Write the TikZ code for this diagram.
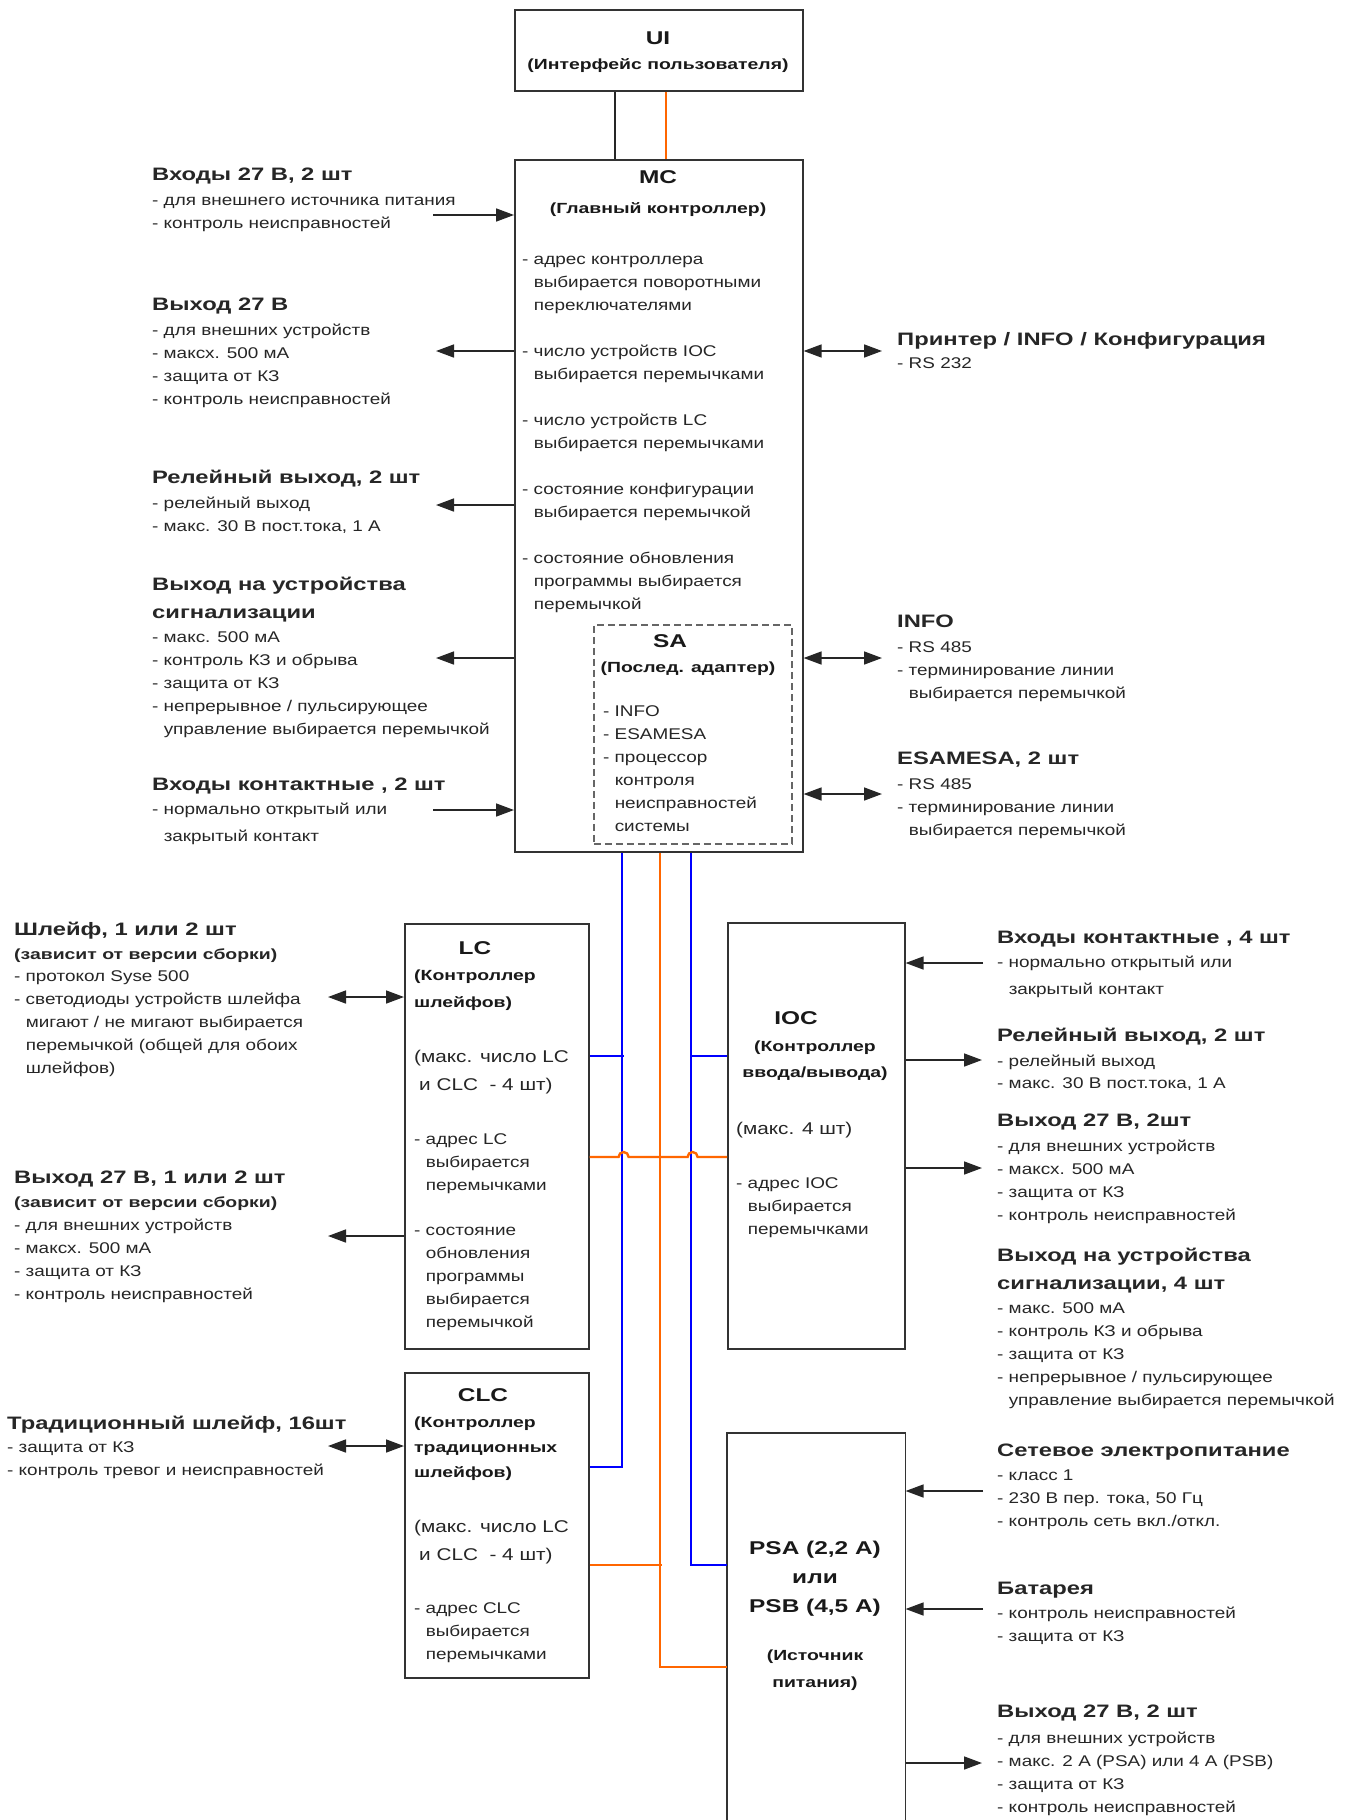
\documentclass[tikz,border=0pt]{standalone}
\usepackage{fontspec}
\setmainfont[FakeStretch=1.22]{Liberation Sans}
\newfontfamily\hdfam[FakeStretch=1.32]{Liberation Sans}
\usetikzlibrary{arrows.meta}

\definecolor{busblue}{RGB}{0,0,255}
\definecolor{busorange}{RGB}{255,102,0}

\newcommand{\bodyfont}{\fontsize{15.5}{23}\selectfont}
\newcommand{\headfont}{\hdfam\bfseries\fontsize{18}{23}\selectfont}
\newcommand{\subfont}{\hdfam\bfseries\fontsize{14.7}{26}\selectfont}
\newcommand{\titlefont}{\hdfam\bfseries\fontsize{18.5}{29}\selectfont}
\newcommand{\maxfont}{\fontsize{17}{28}\selectfont}
\newcommand{\ind}{\phantom{- }}
\newcommand{\leftlines}[1]{\begin{tabular}[t]{@{}l@{}}#1\end{tabular}}
\newcommand{\midlines}[1]{\begin{tabular}[t]{@{}c@{}}#1\end{tabular}}

\tikzset{
	box/.style={draw=black!80,line width=1.6,inner sep=0,anchor=north west},
	txt/.style={anchor=base west,inner sep=0,font=\bodyfont,text=black!85},
	ttl/.style={anchor=base,inner sep=0,font=\titlefont,text=black!90},
	sub/.style={anchor=base,inner sep=0,font=\subfont,text=black!90},
	subl/.style={anchor=base west,inner sep=0,font=\subfont,text=black!90},
	maxi/.style={anchor=base west,inner sep=0,font=\maxfont,text=black!85},
	arr/.style={draw=black!85,line width=1.6,-{Triangle[length=18pt,width=13pt]}},
	darr/.style={draw=black!85,line width=1.6,{Triangle[length=18pt,width=13pt]}-{Triangle[length=18pt,width=13pt]}},
	busb/.style={draw=busblue,line width=2.4},
	buso/.style={draw=busorange,line width=2.4}
}

\begin{document}
\begin{tikzpicture}[x=1pt,y=-1pt]
	\path[fill=white,use as bounding box] (0,0) rectangle (1357,1820);

	% blocks
	\node[box,minimum width=288,minimum height=81] (ui) at (514,9) {};
	\node[box,minimum width=288,minimum height=692] (mc) at (514,159) {};
	\node[box,draw=black!60,dash pattern=on 7pt off 4pt,minimum width=198,minimum height=219] (sa) at (593,624) {};
	\node[box,minimum width=184,minimum height=425] (lc) at (404,923) {};
	\node[box,minimum width=177,minimum height=426] (ioc) at (727,922) {};
	\node[box,minimum width=184,minimum height=305] (clc) at (404,1372) {};
	\node[box,draw=none,minimum width=177,minimum height=400] (psa) at (727,1433) {};
	\draw[draw=black!80,line width=1.6] (psa.south west) -- (psa.north west) -- (psa.north east) -- (psa.south east);

	% block texts
	\node[ttl] (uiT) at (658,44.5) {UI};
	\node[sub] (uiS) at (658,69) {(Интерфейс пользователя)};
	\node[ttl] (mcT) at (658,183) {MC};
	\node[sub] (mcS) at (658,213) {(Главный контроллер)};
	\node[txt] (mcL) at (522,264) {\leftlines{- адрес контроллера\\\ind выбирается поворотными\\\ind переключателями\\[23pt]- число устройств IOC\\\ind выбирается перемычками\\[23pt]- число устройств LC\\\ind выбирается перемычками\\[23pt]- состояние конфигурации\\\ind выбирается перемычкой\\[23pt]- состояние обновления\\\ind программы выбирается\\\ind перемычкой}};
	\node[ttl] (saT) at (670,647) {SA};
	\node[sub] (saS) at (688,672) {(Послед. адаптер)};
	\node[txt] (saL) at (603,716) {\leftlines{- INFO\\- ESAMESA\\- процессор\\\ind контроля\\\ind неисправностей\\\ind системы}};

	\node[ttl] (lcT) at (475,954) {LC};
	\node[subl] (lcS) at (414,980) {\leftlines{(Контроллер\\[1pt]шлейфов)}};
	\node[maxi] (lcM) at (414,1062) {\leftlines{(макс. число LC\\\hspace*{5pt}и CLC\ \ - 4 шт)}};
	\node[txt] (lcL) at (414,1144) {\leftlines{- адрес LC\\\ind выбирается\\\ind перемычками\\[22pt]- состояние\\\ind обновления\\\ind программы\\\ind выбирается\\\ind перемычкой}};

	\node[ttl] (iocT) at (796,1024) {IOC};
	\node[sub] (iocS) at (815,1051) {\midlines{(Контроллер\\ввода/вывода)}};
	\node[maxi] (iocM) at (736,1134) {(макс. 4 шт)};
	\node[txt] (iocL) at (736,1188) {\leftlines{- адрес IOC\\\ind выбирается\\\ind перемычками}};

	\node[ttl] (clcT) at (483,1401) {CLC};
	\node[subl] (clcS) at (414,1427) {\leftlines{(Контроллер\\[-1pt]традиционных\\[-1pt]шлейфов)}};
	\node[maxi] (clcM) at (414,1532) {\leftlines{(макс. число LC\\\hspace*{5pt}и CLC\ \ - 4 шт)}};
	\node[txt] (clcL) at (414,1613) {\leftlines{- адрес CLC\\\ind выбирается\\\ind перемычками}};

	\node[ttl] (psaT) at (815,1554) {\midlines{PSA (2,2 А)\\или\\PSB (4,5 А)}};
	\node[sub] (psaS) at (815,1660) {\midlines{(Источник\\[1pt]питания)}};

	% outer texts
	\node[txt] (vinT) at (152,180) {\leftlines{{\headfont Входы 27 В, 2 шт}\\[2pt]- для внешнего источника питания\\- контроль неисправностей}};
	\node[txt] (voutT) at (152,310) {\leftlines{{\headfont Выход 27 В}\\[2pt]- для внешних устройств\\- максх. 500 мА\\- защита от КЗ\\- контроль неисправностей}};
	\node[txt] (relT) at (152,483) {\leftlines{{\headfont Релейный выход, 2 шт}\\[2pt]- релейный выход\\- макс. 30 В пост.тока, 1 А}};
	\node[txt] (sigT) at (152,590) {\leftlines{{\headfont Выход на устройства}\\[5pt]{\headfont сигнализации}\\[1pt]- макс. 500 мА\\- контроль КЗ и обрыва\\- защита от КЗ\\- непрерывное / пульсирующее\\\ind управление выбирается перемычкой}};
	\node[txt] (kinT) at (152,790) {\leftlines{{\headfont Входы контактные , 2 шт}\\[1pt]- нормально открытый или\\[4pt]\ind закрытый контакт}};
	\node[txt] (prnT) at (897,345) {\leftlines{{\headfont Принтер / INFO / Конфигурация}\\- RS 232}};
	\node[txt] (infoT) at (897,627) {\leftlines{{\headfont INFO}\\[2pt]- RS 485\\- терминирование линии\\\ind выбирается перемычкой}};
	\node[txt] (esaT) at (897,764) {\leftlines{{\headfont ESAMESA, 2 шт}\\[2pt]- RS 485\\- терминирование линии\\\ind выбирается перемычкой}};

	\node[txt] (loopT) at (14,935) {\leftlines{{\headfont Шлейф, 1 или 2 шт}\\[1pt]{\subfont (зависит от версии сборки)}\\[-1pt]- протокол Syse 500\\- светодиоды устройств шлейфа\\\ind мигают / не мигают выбирается\\\ind перемычкой (общей для обоих\\\ind шлейфов)}};
	\node[txt] (lcOutT) at (14,1183) {\leftlines{{\headfont Выход 27 В, 1 или 2 шт}\\[1pt]{\subfont (зависит от версии сборки)}\\- для внешних устройств\\- максх. 500 мА\\- защита от КЗ\\- контроль неисправностей}};
	\node[txt] (tloopT) at (7,1429) {\leftlines{{\headfont Традиционный шлейф, 16шт}\\- защита от КЗ\\- контроль тревог и неисправностей}};

	\node[txt] (iocInT) at (997,943) {\leftlines{{\headfont Входы контактные , 4 шт}\\[1pt]- нормально открытый или\\[4pt]\ind закрытый контакт}};
	\node[txt] (iocRelT) at (997,1041) {\leftlines{{\headfont Релейный выход, 2 шт}\\[2pt]- релейный выход\\[-1pt]- макс. 30 В пост.тока, 1 А}};
	\node[txt] (iocVT) at (997,1126) {\leftlines{{\headfont Выход 27 В, 2шт}\\[2pt]- для внешних устройств\\- максх. 500 мА\\- защита от КЗ\\- контроль неисправностей}};
	\node[txt] (iocSigT) at (997,1261) {\leftlines{{\headfont Выход на устройства}\\[5pt]{\headfont сигнализации, 4 шт}\\[1pt]- макс. 500 мА\\- контроль КЗ и обрыва\\- защита от КЗ\\- непрерывное / пульсирующее\\\ind управление выбирается перемычкой}};
	\node[txt] (mainsT) at (997,1456) {\leftlines{{\headfont Сетевое электропитание}\\[1pt]- класс 1\\- 230 В пер. тока, 50 Гц\\- контроль сеть вкл./откл.}};
	\node[txt] (battT) at (997,1594) {\leftlines{{\headfont Батарея}\\[1pt]- контроль неисправностей\\- защита от КЗ}};
	\node[txt] (psaOutT) at (997,1717) {\leftlines{{\headfont Выход 27 В, 2 шт}\\[3pt]- для внешних устройств\\- макс. 2 А (PSA) или 4 А (PSB)\\- защита от КЗ\\- контроль неисправностей}};

	% free ends of the arrows
	\coordinate (vin) at (433,215);
	\coordinate (vout) at (436,351);
	\coordinate (rel) at (436,505);
	\coordinate (sig) at (436,658);
	\coordinate (kin) at (433,810);
	\coordinate (prn) at (882,351);
	\coordinate (info) at (882,658);
	\coordinate (esa) at (882,794);
	\coordinate (loop) at (328,997);
	\coordinate (lcOut) at (328,1236);
	\coordinate (tloop) at (328,1446);
	\coordinate (iocIn) at (983,963);
	\coordinate (iocRel) at (982,1060);
	\coordinate (iocV) at (982,1168);
	\coordinate (mains) at (983,1491);
	\coordinate (batt) at (983,1609);
	\coordinate (psaOut) at (982,1763);

	% arrows
	\draw[arr] (vin) -- (vin -| mc.west);
	\draw[arr] (vout -| mc.west) -- (vout);
	\draw[arr] (rel -| mc.west) -- (rel);
	\draw[arr] (sig -| mc.west) -- (sig);
	\draw[arr] (kin) -- (kin -| mc.west);
	\draw[darr] (prn -| mc.east) -- (prn);
	\draw[darr] (info -| mc.east) -- (info);
	\draw[darr] (esa -| mc.east) -- (esa);
	\draw[darr] (loop) -- (loop -| lc.west);
	\draw[arr] (lcOut -| lc.west) -- (lcOut);
	\draw[darr] (tloop) -- (tloop -| clc.west);
	\draw[arr] (iocIn) -- (iocIn -| ioc.east);
	\draw[arr] (iocRel -| ioc.east) -- (iocRel);
	\draw[arr] (iocV -| ioc.east) -- (iocV);
	\draw[arr] (mains) -- (mains -| psa.east);
	\draw[arr] (batt) -- (batt -| psa.east);
	\draw[arr] (psaOut -| psa.east) -- (psaOut);

	% UI - MC
	\draw[draw=black!85,line width=1.6] ([xshift=101]ui.south west) -- ([xshift=101]mc.north west);
	\draw[buso,line width=2] ([xshift=152]ui.south west) -- ([xshift=152]mc.north west);

	% buses
	\draw[busb] ([xshift=108]mc.south west) |- ([yshift=-95]clc.north east);
	\draw[busb] ([yshift=-133]lc.north east) -- ++(34,0);
	\draw[busb] ([xshift=177]mc.south west) |- ([yshift=-132]psa.north west);
	\draw[busb] ([yshift=-134]ioc.north west) -- ++(-36,0);
	\draw[buso] ([xshift=146]mc.south west) |- ([yshift=-234]psa.north west);
	\draw[buso] ([yshift=-193]clc.north east) -- ++(72,0);
	\draw[buso] ([yshift=-234]lc.north east) coordinate (hop) -- ++(29,0) arc[start angle=180,end angle=0,radius=5pt] -- ++(59,0) arc[start angle=180,end angle=0,radius=5pt] -- (hop -| ioc.west);
\end{tikzpicture}
\end{document}
